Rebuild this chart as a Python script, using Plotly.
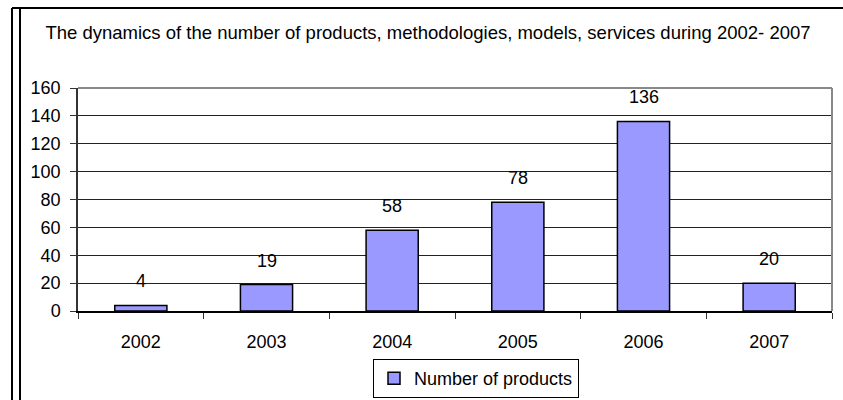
import plotly.graph_objects as go

years = ["2002", "2003", "2004", "2005", "2006", "2007"]
products = [4, 19, 58, 78, 136, 20]
y_ticks = [0, 20, 40, 60, 80, 100, 120, 140, 160]

title_text = "The dynamics of the number of products, methodologies, models, services during 2002- 2007"
series_name = "Number of products"

W, H = 843, 400
L, R, T, B = 78, 11, 88, 89
pw, ph = W - L - R, H - T - B

def px_x(p):
    return (p - L) / pw

def px_y(p):
    return (H - B - p) / ph

FONT = "Arial, Liberation Sans, sans-serif"
FS = 18

fig = go.Figure()
fig.add_trace(go.Bar(
    x=years, y=products, name=series_name,
    marker=dict(color="#9999FF", line=dict(color="black", width=1.5)),
    showlegend=True,
))

for i, v in enumerate(products):
    fig.add_annotation(x=i, y=v, xref="x", yref="y", text=str(v), showarrow=False,
                       yanchor="bottom", yshift=12,
                       font=dict(size=FS, color="black", family=FONT))

fig.update_layout(
    width=W, height=H,
    margin=dict(l=L, r=R, t=T, b=B, autoexpand=False),
    paper_bgcolor="white", plot_bgcolor="white",
    font=dict(family=FONT, size=FS, color="black"),
    bargap=0.585,
    title=dict(text=title_text, x=px_x(428), xanchor="center", xref="paper",
               y=1 - 33 / H, yanchor="middle", yref="container",
               font=dict(size=18.5, color="black", family=FONT)),
    xaxis=dict(type="category", tickson="boundaries", ticks="outside", ticklen=6,
               tickcolor="#333", showline=True, linecolor="black", linewidth=1.5,
               showgrid=False, ticklabelstandoff=14, range=[-0.5, 5.5],
               tickfont=dict(size=FS)),
    yaxis=dict(range=[0, 160], tickvals=y_ticks, ticks="outside", ticklen=6,
               tickcolor="#333", showline=True, linecolor="#333", linewidth=1.5,
               showgrid=True, gridcolor="#222", gridwidth=1, zeroline=False,
               ticklabelstandoff=6, tickfont=dict(size=FS)),
    legend=dict(orientation="h", x=px_x(476), xanchor="center",
                y=px_y(359), yanchor="top",
                bordercolor="black", borderwidth=1, bgcolor="white",
                font=dict(size=FS, family=FONT), itemwidth=30),
)

# plot-area border (top and right, gray)
fig.add_shape(type="line", xref="paper", yref="paper", x0=0, x1=1, y0=1, y1=1,
              line=dict(color="#888", width=2), layer="above")
fig.add_shape(type="line", xref="paper", yref="paper", x0=1, x1=1, y0=0, y1=1,
              line=dict(color="#888", width=2), layer="above")

# outer frame
fig.add_shape(type="line", xref="paper", yref="paper",
              x0=px_x(12), x1=px_x(845), y0=px_y(8), y1=px_y(8),
              line=dict(color="black", width=2))
fig.add_shape(type="line", xref="paper", yref="paper",
              x0=px_x(12), x1=px_x(12), y0=px_y(8), y1=px_y(402),
              line=dict(color="black", width=2))
fig.add_shape(type="line", xref="paper", yref="paper",
              x0=px_x(20), x1=px_x(20), y0=px_y(8), y1=px_y(402),
              line=dict(color="black", width=2))

fig.write_html("out.html", config={"displayModeBar": False},
               post_script="document.body.style.margin='0';document.body.style.padding='0';")
